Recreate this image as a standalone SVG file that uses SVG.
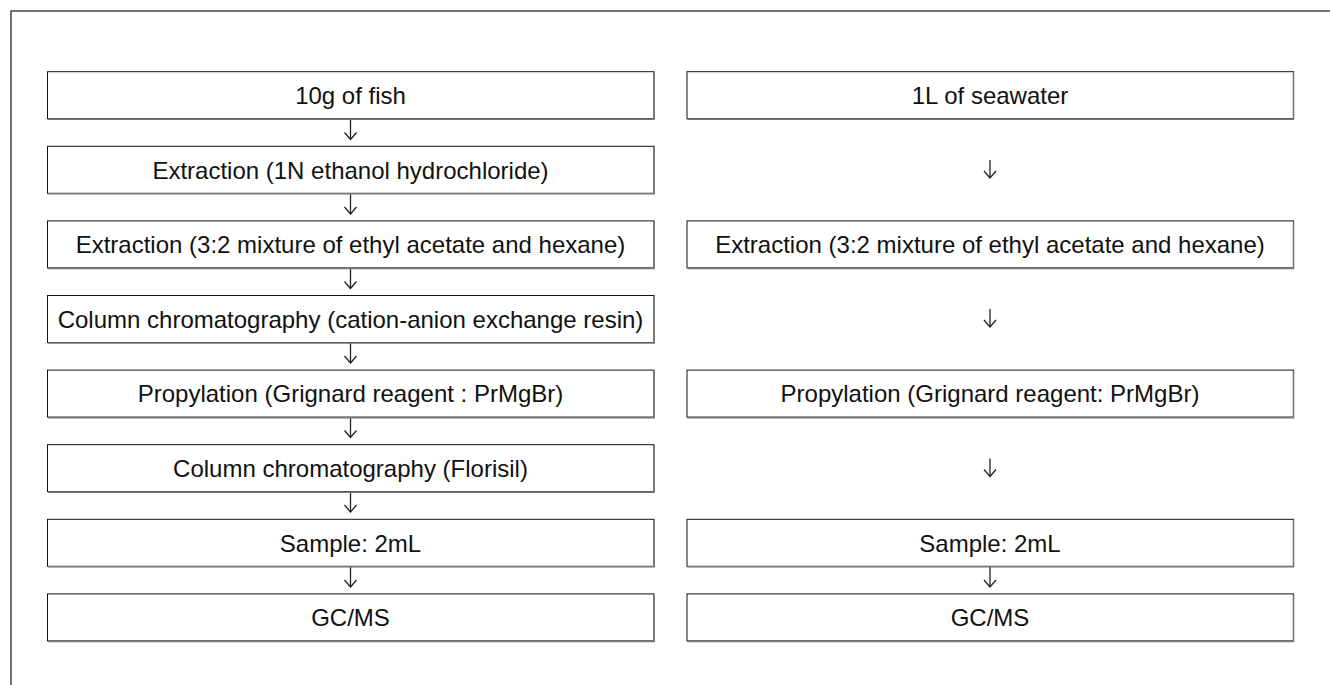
<svg xmlns="http://www.w3.org/2000/svg" xmlns:xlink="http://www.w3.org/1999/xlink" width="1330" height="685" viewBox="0 0 1330 685">
<style>
.t{font-family:"Liberation Sans",Arial,sans-serif;font-size:24px;fill:#111;text-anchor:middle}
.c{fill:none;stroke:#222;stroke-width:1.3}
.frame{fill:none;stroke:#444;stroke-width:1.5}
</style>
<defs>
<g id="box">
<rect x="0" y="0" width="606.5" height="47" fill="#fff" stroke="#111" stroke-width="1"/>
<path d="M606.5,0.5 V47.5 H0.5" fill="none" stroke="#777" stroke-width="1.6"/>
</g>
<marker id="ah" markerWidth="10" markerHeight="14" refX="8" refY="7" orient="auto" markerUnits="userSpaceOnUse" viewBox="0 0 10 14">
<path d="M1,1 L8,7 L1,13" fill="none" stroke="#222" stroke-width="1.3"/>
</marker>
</defs>
<rect width="1330" height="685" fill="#fff"/>
<path class="frame" d="M11,685 V11 H1330"/>
<g id="connectors">
<line class="c" x1="350.5" y1="119" x2="350.5" y2="139.5" marker-end="url(#ah)"/>
<line class="c" x1="350.5" y1="193.5" x2="350.5" y2="214" marker-end="url(#ah)"/>
<line class="c" x1="350.5" y1="268" x2="350.5" y2="288.5" marker-end="url(#ah)"/>
<line class="c" x1="350.5" y1="342.5" x2="350.5" y2="363" marker-end="url(#ah)"/>
<line class="c" x1="350.5" y1="417" x2="350.5" y2="437.5" marker-end="url(#ah)"/>
<line class="c" x1="350.5" y1="491.5" x2="350.5" y2="512" marker-end="url(#ah)"/>
<line class="c" x1="350.5" y1="566" x2="350.5" y2="587" marker-end="url(#ah)"/>
<line class="c" x1="990" y1="160" x2="990" y2="178" marker-end="url(#ah)"/>
<line class="c" x1="990" y1="309" x2="990" y2="327" marker-end="url(#ah)"/>
<line class="c" x1="990" y1="458.5" x2="990" y2="476.5" marker-end="url(#ah)"/>
<line class="c" x1="990" y1="566" x2="990" y2="587" marker-end="url(#ah)"/>
</g>
<g id="fish1"><use xlink:href="#box" x="47.5" y="71.7"/><text class="t" x="350.5" y="103.9">10g of fish</text></g>
<g id="fish2"><use xlink:href="#box" x="47.5" y="146.3"/><text class="t" x="350.5" y="178.5">Extraction (1N ethanol hydrochloride)</text></g>
<g id="fish3"><use xlink:href="#box" x="47.5" y="220.9"/><text class="t" x="350.5" y="253.1">Extraction (3:2 mixture of ethyl acetate and hexane)</text></g>
<g id="fish4"><use xlink:href="#box" x="47.5" y="295.5"/><text class="t" x="350.5" y="327.7">Column chromatography (cation-anion exchange resin)</text></g>
<g id="fish5"><use xlink:href="#box" x="47.5" y="370.1"/><text class="t" x="350.5" y="402.3">Propylation (Grignard reagent : PrMgBr)</text></g>
<g id="fish6"><use xlink:href="#box" x="47.5" y="444.7"/><text class="t" x="350.5" y="476.9">Column chromatography (Florisil)</text></g>
<g id="fish7"><use xlink:href="#box" x="47.5" y="519.3"/><text class="t" x="350.5" y="551.5">Sample: 2mL</text></g>
<g id="fish8"><use xlink:href="#box" x="47.5" y="593.9"/><text class="t" x="350.5" y="626.1">GC/MS</text></g>
<g id="sea1"><use xlink:href="#box" x="687" y="71.7"/><text class="t" x="990" y="103.9">1L of seawater</text></g>
<g id="sea3"><use xlink:href="#box" x="687" y="220.9"/><text class="t" x="990" y="253.1">Extraction (3:2 mixture of ethyl acetate and hexane)</text></g>
<g id="sea5"><use xlink:href="#box" x="687" y="370.1"/><text class="t" x="990" y="402.3">Propylation (Grignard reagent: PrMgBr)</text></g>
<g id="sea7"><use xlink:href="#box" x="687" y="519.3"/><text class="t" x="990" y="551.5">Sample: 2mL</text></g>
<g id="sea8"><use xlink:href="#box" x="687" y="593.9"/><text class="t" x="990" y="626.1">GC/MS</text></g>
</svg>
